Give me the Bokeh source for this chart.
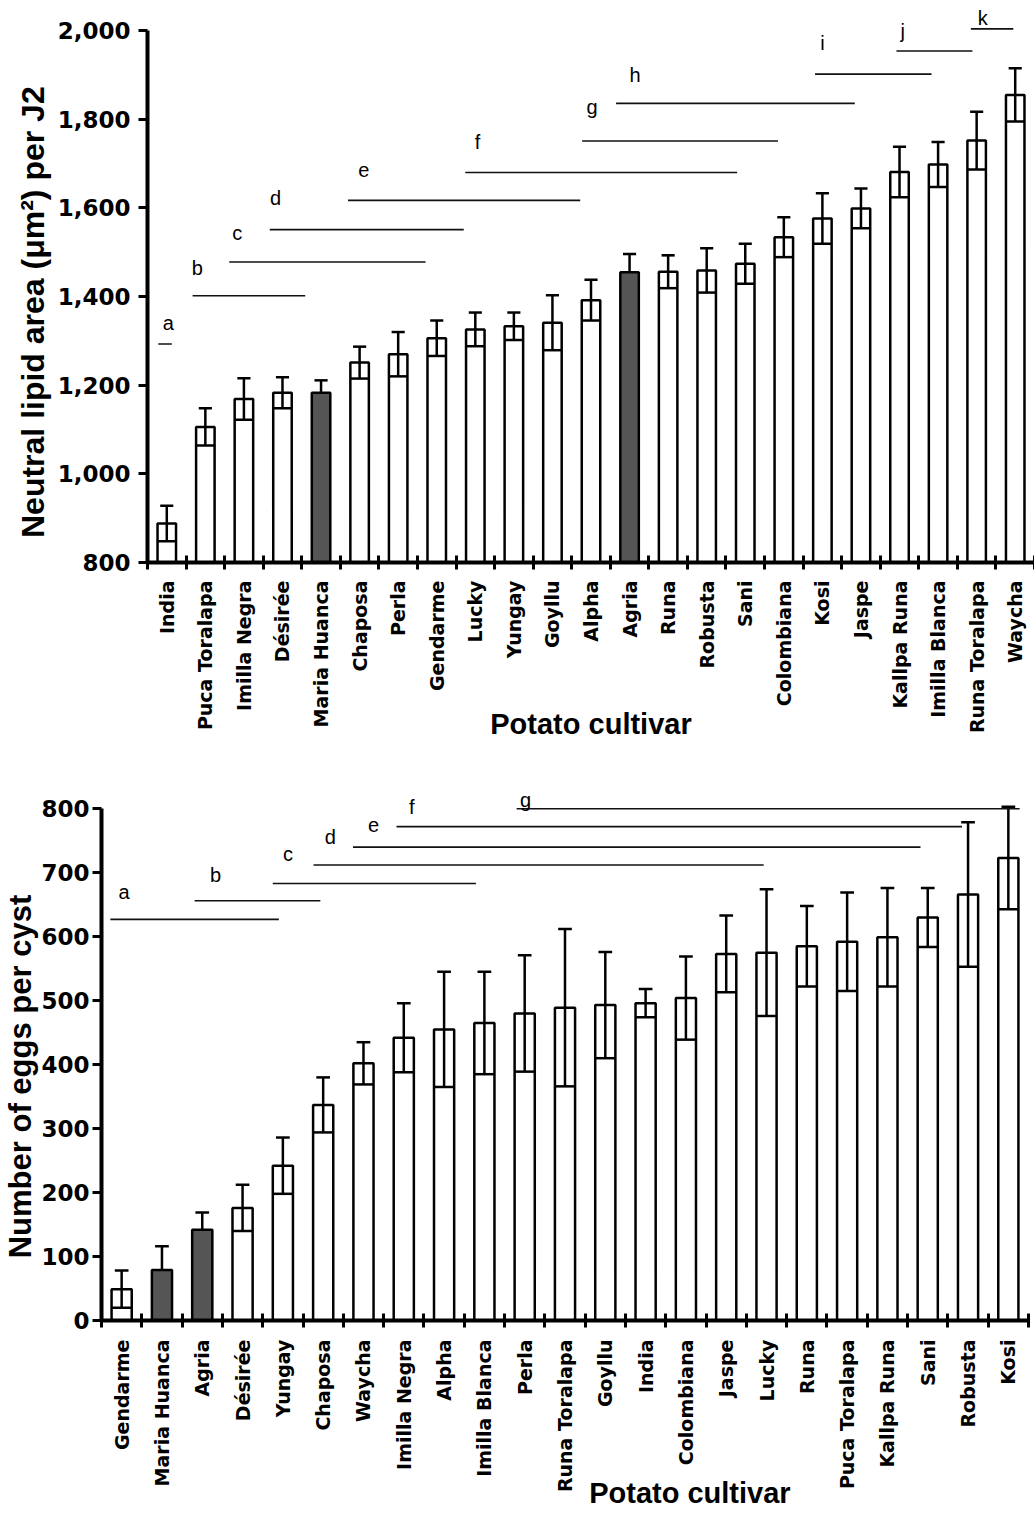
import math
from bokeh.plotting import figure
from bokeh.models import (ColumnDataSource, FixedTicker, Range1d, NumeralTickFormatter,
                          LabelSet)
from bokeh.core.properties import value
from bokeh.layouts import column, row
from bokeh.embed import file_html
from bokeh.resources import INLINE

# ---------------- data: panel A (neutral lipid area) ----------------
lipid_cultivars = ["India", "Puca Toralapa", "Imilla Negra", "Désirée", "Maria Huanca",
                   "Chaposa", "Perla", "Gendarme", "Lucky", "Yungay", "Goyllu", "Alpha",
                   "Agria", "Runa", "Robusta", "Sani", "Colombiana", "Kosi", "Jaspe",
                   "Kallpa Runa", "Imilla Blanca", "Runa Toralapa", "Waycha"]
lipid_mean = [888, 1106, 1169, 1183, 1183, 1251, 1270, 1306, 1326, 1333, 1341, 1392,
              1455, 1456, 1459, 1474, 1534, 1576, 1599, 1681, 1698, 1752, 1855]
lipid_se = [40, 42, 47, 35, 28, 36, 50, 40, 38, 31, 62, 46,
            41, 37, 50, 45, 45, 57, 45, 57, 51, 65, 60]
lipid_ticks = [800, 1000, 1200, 1400, 1600, 1800, 2000]
lipid_groups = ["a", "b", "c", "d", "e", "f", "g", "h", "i", "j", "k"]
lipid_group_start = [0.28, 1.17, 2.12, 3.17, 5.20, 8.24, 11.27, 12.15, 17.31, 19.42, 21.35]
lipid_group_end = [0.63, 4.09, 7.21, 8.20, 11.22, 15.29, 16.35, 18.34, 20.33, 21.39, 22.45]
lipid_group_y = [1293, 1402, 1478, 1551, 1617, 1680, 1751, 1836, 1902, 1954, 2004]
lipid_letter_x = [0.54, 1.29, 2.33, 3.32, 5.61, 8.56, 11.53, 12.64, 17.50, 19.58, 21.66]
lipid_letter_y = [1341, 1465, 1544, 1622, 1685, 1748, 1828, 1899, 1972, 2000, 2029]

# ---------------- data: panel B (eggs per cyst) ----------------
eggs_cultivars = ["Gendarme", "Maria Huanca", "Agria", "Désirée", "Yungay", "Chaposa",
                  "Waycha", "Imilla Negra", "Alpha", "Imilla Blanca", "Perla",
                  "Runa Toralapa", "Goyllu", "India", "Colombiana", "Jaspe", "Lucky",
                  "Runa", "Puca Toralapa", "Kallpa Runa", "Sani", "Robusta", "Kosi"]
eggs_mean = [49, 79, 142, 176, 242, 337, 402, 442, 455, 465, 480, 489, 493, 496, 504,
             573, 575, 585, 592, 599, 630, 666, 723]
eggs_se = [29, 37, 27, 36, 44, 43, 33, 54, 90, 80, 91, 123, 83, 22, 65, 60, 99, 63,
           77, 77, 46, 113, 80]
eggs_ticks = [0, 100, 200, 300, 400, 500, 600, 700, 800]
eggs_groups = ["a", "b", "c", "d", "e", "f", "g"]
eggs_group_start = [0.22, 2.31, 4.25, 5.26, 6.24, 7.32, 10.30]
eggs_group_end = [4.40, 5.43, 9.29, 16.43, 20.32, 21.35, 22.78]
eggs_group_y = [627, 656, 683, 712, 740, 772, 800]
eggs_letter_x = [0.56, 2.83, 4.63, 5.68, 6.75, 7.70, 10.52]
eggs_letter_y = [670, 697, 729, 755, 775, 802, 813]

highlight = ["Maria Huanca", "Agria"]

TICK_FONT = "DejaVu Sans"
TITLE_FONT = "Liberation Sans"
NBSP = "\u00a0"


def make_panel(cats, means, ses, ticks, y_lo, y_hi, y_top, ylabel, ylabel_size, fmt,
               g_start, g_end, g_y, l_x, l_y, l_text, xlabel, xlabel_standoff,
               ylab_standoff, ytick_standoff, xtick_standoff,
               width, height, mb_left, mb_right, mb_top, mb_bottom, bar_w):
    n = len(cats)
    p = figure(width=width, height=height, x_range=Range1d(0, n),
               y_range=Range1d(y_lo, y_top), output_backend="svg",
               toolbar_location=None, min_border_left=mb_left, min_border_right=mb_right,
               min_border_top=mb_top, min_border_bottom=mb_bottom)
    p.outline_line_color = None
    p.xgrid.visible = False
    p.ygrid.visible = False
    p.background_fill_color = "white"
    p.border_fill_color = "white"

    centers = [i + 0.5 for i in range(n)]
    fills = ["#555555" if c in highlight else "white" for c in cats]
    src = ColumnDataSource(dict(x=centers, top=means, fill=fills))
    p.vbar(x="x", top="top", bottom=y_lo, width=bar_w, fill_color="fill",
           line_color="black", line_width=2.5, source=src)

    # error bars: stem, upper T-cap, lower full-width line inside the bar
    sx0, sy0, sx1, sy1 = [], [], [], []
    for c, xm, m, s in zip(cats, centers, means, ses):
        lo = m if c in highlight else m - s
        sx0 += [xm, xm - 0.17]
        sx1 += [xm, xm + 0.17]
        sy0 += [lo, m + s]
        sy1 += [m + s, m + s]
        if c not in highlight:
            sx0.append(xm - bar_w / 2)
            sx1.append(xm + bar_w / 2)
            sy0.append(m - s)
            sy1.append(m - s)
    p.segment(x0=sx0, y0=sy0, x1=sx1, y1=sy1, line_color="black", line_width=2.5)

    # significance group lines and letters
    p.segment(x0=g_start, x1=g_end, y0=g_y, y1=g_y, line_color="#111111", line_width=1.6)
    lsrc = ColumnDataSource(dict(x=l_x, y=l_y, t=l_text))
    p.add_layout(LabelSet(x="x", y="y", text="t", source=lsrc,
                          text_font=value(TITLE_FONT),
                          text_font_size=value("20px"), text_align="center",
                          text_baseline="middle", text_color="black"))

    # y axis
    ya = p.yaxis[0]
    ya.ticker = FixedTicker(ticks=ticks)
    ya.formatter = NumeralTickFormatter(format=fmt)
    ya.bounds = (y_lo, y_hi)
    ya.axis_line_width = 4
    ya.major_tick_line_width = 3
    ya.major_tick_in = 0
    ya.major_tick_out = 9
    ya.minor_tick_line_color = None
    ya.major_label_text_font = TICK_FONT
    ya.major_label_text_font_style = "bold"
    ya.major_label_text_font_size = "23px"
    ya.major_label_text_color = "black"
    ya.major_label_standoff = ytick_standoff
    ya.axis_label = ylabel
    ya.axis_label_text_font = TITLE_FONT
    ya.axis_label_text_font_style = "bold"
    ya.axis_label_text_font_size = ylabel_size
    ya.axis_label_text_color = "black"
    ya.axis_label_standoff = ylab_standoff

    # x axis: labels at bar centres, tick marks at category boundaries
    xa = p.xaxis[0]
    xa.ticker = FixedTicker(ticks=centers, minor_ticks=list(range(n + 1)))
    xa.major_label_overrides = {xc: c for xc, c in zip(centers, cats)}
    xa.major_label_orientation = math.pi / 2
    xa.major_tick_line_color = None
    xa.major_tick_in = 0
    xa.major_tick_out = 0
    xa.minor_tick_in = 7
    xa.minor_tick_out = 7
    xa.minor_tick_line_width = 3
    xa.minor_tick_line_color = "black"
    xa.axis_line_width = 4
    xa.major_label_standoff = xtick_standoff
    xa.major_label_text_font = TICK_FONT
    xa.major_label_text_font_style = "bold"
    xa.major_label_text_font_size = "19px"
    xa.major_label_text_color = "black"
    xa.axis_label = xlabel
    xa.axis_label_text_font = TITLE_FONT
    xa.axis_label_text_font_style = "bold"
    xa.axis_label_text_font_size = "29px"
    xa.axis_label_text_color = "black"
    xa.axis_label_standoff = xlabel_standoff
    return p


top = make_panel(lipid_cultivars, lipid_mean, lipid_se, lipid_ticks, 800, 2000, 2050,
                 "Neutral lipid area (μm²) per J2" + NBSP * 6, "32px", "0,0",
                 lipid_group_start, lipid_group_end, lipid_group_y,
                 lipid_letter_x, lipid_letter_y, lipid_groups,
                 "Potato cultivar", -28, 4, 8, 11,
                 1034, 770, 147, 0, 8, 208, 0.48)

bottom = make_panel(eggs_cultivars, eggs_mean, eggs_se, eggs_ticks, 0, 800, 830,
                    "Number of eggs per cyst" + NBSP * 5, "31px", "0",
                    eggs_group_start, eggs_group_end, eggs_group_y,
                    eggs_letter_x, eggs_letter_y, eggs_groups,
                    NBSP * 31 + "Potato cultivar", -18, 0, 3, 12,
                    1034, 749, 100, 6, 19, 199, 0.5)

layout = column(row(top), row(bottom), spacing=0)
open("out.html", "w").write(file_html(layout, INLINE))
